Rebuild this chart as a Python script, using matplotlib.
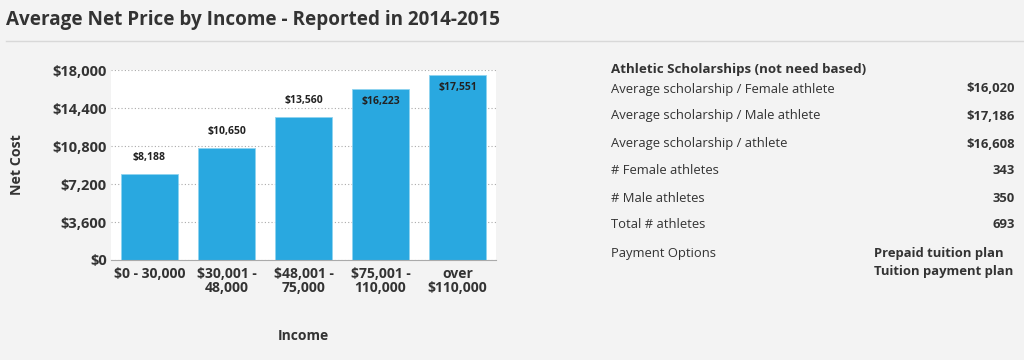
import matplotlib.pyplot as plt
import numpy as np

# data
incomes = ['$0 - 30,000', '$30,001 -\n48,000', '$48,001 -\n75,000', '$75,001 -\n110,000', 'over\n$110,000']
net_price = [8188, 10650, 13560, 16223, 17551]
yticks = [0, 3600, 7200, 10800, 14400, 18000]

stat_labels = ['Average scholarship / Female athlete', 'Average scholarship / Male athlete',
               'Average scholarship / athlete', '# Female athletes', '# Male athletes',
               'Total # athletes']
stat_values = ['$16,020', '$17,186', '$16,608', '343', '350', '693']
payment_options = ['Prepaid tuition plan', 'Tuition payment plan']

plt.rcParams['font.family'] = ['Open Sans', 'DejaVu Sans']
bg = '#f3f3f3'
txt = '#333333'

fig = plt.figure(figsize=(10.24, 3.6), dpi=100, facecolor=bg)

# title and rule
fig.text(6/1024, 1 - 20/360, 'Average Net Price by Income - Reported in 2014-2015',
         fontsize=13.6, fontweight='bold', color=txt, va='center', ha='left')
fig.add_artist(plt.Line2D([6/1024, 1], [1 - 41/360, 1 - 41/360], color='#d8d8d8', lw=1))

# bar chart
ax = fig.add_axes([111/1024, 1 - 260/360, 385/1024, 190/360])
ax.set_facecolor('white')
x = np.arange(len(incomes))
bars = ax.bar(x, net_price, width=0.74, color='#29a8e0', edgecolor='#8fd3f0', linewidth=0.6)
ax.set_xlim(-0.5, len(incomes) - 0.5)
ax.set_ylim(0, 18000)
ax.set_yticks(yticks)
ax.set_yticklabels(['${:,}'.format(v) for v in yticks], fontsize=10.5, fontweight='bold', color=txt)
ax.set_xticks(x)
ax.set_xticklabels(incomes, fontsize=10, fontweight='bold', color=txt, linespacing=1.05)
ax.tick_params(length=0, pad=3)
ax.tick_params(axis='x', pad=5)
ax.grid(axis='y', linestyle=(0, (1, 2)), color='#aaaaaa', lw=0.8)
ax.set_axisbelow(True)
for s in ['top', 'right', 'left']:
    ax.spines[s].set_visible(False)
ax.spines['bottom'].set_color('#aaaaaa')

for i, v in enumerate(net_price):
    if v > 15000:
        ax.text(i, v - 700, '${:,}'.format(v), ha='center', va='top', fontsize=7.5,
                fontweight='bold', color='#222222')
    else:
        ax.text(i, v + 1000, '${:,}'.format(v), ha='center', va='bottom', fontsize=7.5,
                fontweight='bold', color='#222222')

fig.text(17/1024, 1 - 165/360, 'Net Cost', rotation=90, fontsize=10.2, fontweight='bold',
         color=txt, ha='center', va='center')
fig.text(303/1024, 1 - 336/360, 'Income', fontsize=10, fontweight='bold',
         color=txt, ha='center', va='center')

# side table
fig.text(611/1024, 1 - 70/360, 'Athletic Scholarships (not need based)', fontsize=9.6,
         fontweight='bold', color=txt, va='center')
row_y = [89, 116, 144, 171, 198, 225]
for yy, lab, val in zip(row_y, stat_labels, stat_values):
    fig.text(611/1024, 1 - yy/360, lab, fontsize=9.4, color=txt, va='center')
    fig.text(1015/1024, 1 - yy/360, val, fontsize=9.4, fontweight='bold', color=txt,
             va='center', ha='right')
fig.text(611/1024, 1 - 253/360, 'Payment Options', fontsize=9.4, color=txt, va='center')
for k, opt in enumerate(payment_options):
    fig.text(874/1024, 1 - (253 + 18*k)/360, opt, fontsize=9.4, fontweight='bold',
             color=txt, va='center')

fig.savefig('out.png', dpi=100, facecolor=bg)
